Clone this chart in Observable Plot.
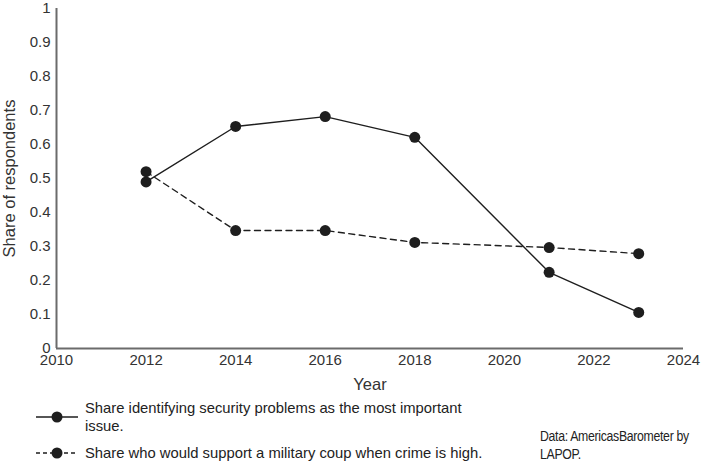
<!DOCTYPE html>
<html>
<head>
<meta charset="utf-8">
<script src="https://cdn.jsdelivr.net/npm/d3@7"></script>
<script src="https://cdn.jsdelivr.net/npm/@observablehq/plot@0.6"></script>
<style>
  body { margin: 0; background: #fff; font-family: "Liberation Sans", Arial, sans-serif; }
  #wrap { width: 701px; height: 463px; position: relative; overflow: hidden; }
  .leg { position: absolute; font-size: 14.8px; color: #222; line-height: 18px; }
  .src { font-size: 13.8px; letter-spacing: -0.35px; white-space: pre; transform: scaleX(0.89); transform-origin: 0 0; }
  .sw { position: absolute; }
</style>
</head>
<body>
<div id="wrap"><div id="chart"></div></div>
<script>
const years = [2012, 2014, 2016, 2018, 2021, 2023];
const securityShare = [0.49, 0.653, 0.682, 0.621, 0.224, 0.106];
const coupSupport = [0.52, 0.347, 0.347, 0.312, 0.297, 0.279];
const xTicks = [2010, 2012, 2014, 2016, 2018, 2020, 2022, 2024];
const yTicks = [0, 0.1, 0.2, 0.3, 0.4, 0.5, 0.6, 0.7, 0.8, 0.9, 1];
const seriesLabels = [
  "Share identifying security problems as the most important issue.",
  "Share who would support a military coup when crime is high."
];
const sourceLines = ["Data: AmericasBarometer by", "LAPOP."];

const sec = years.map((y, i) => ({year: y, value: securityShare[i]}));
const coup = years.map((y, i) => ({year: y, value: coupSupport[i]}));

const ink = "#1e1e1e";
const chart = Plot.plot({
  width: 701,
  height: 392,
  marginLeft: 56,
  marginRight: 18,
  marginTop: 8,
  marginBottom: 44,
  style: {fontFamily: "'Liberation Sans', Arial, sans-serif", fontSize: "15px", color: "#333", background: "#fff"},
  x: {domain: [2010, 2024]},
  y: {domain: [0, 1]},
  marks: [
    Plot.axisX({ticks: xTicks, tickFormat: d => String(d), tickSize: 0, tickPadding: 6, label: "Year", labelAnchor: "center", labelArrow: "none", labelOffset: 41, fontSize: 15}),
    Plot.axisY({ticks: yTicks, tickFormat: d => String(d), tickSize: 0, tickPadding: 6, label: "Share of respondents", labelAnchor: "center", labelArrow: "none", labelOffset: 53, fontSize: 15}),
    Plot.ruleX([2010], {stroke: "#6b6b6b", strokeWidth: 2}),
    Plot.ruleY([0], {stroke: "#6b6b6b", strokeWidth: 2}),
    Plot.line(coup, {x: "year", y: "value", stroke: ink, strokeWidth: 1.4, strokeDasharray: "6,4.5"}),
    Plot.line(sec, {x: "year", y: "value", stroke: ink, strokeWidth: 1.4}),
    Plot.dot(sec, {x: "year", y: "value", r: 5.5, fill: ink}),
    Plot.dot(coup, {x: "year", y: "value", r: 5.5, fill: ink})
  ]
});
d3.select(chart).selectAll("[aria-label='x-axis label'] text, [aria-label='y-axis label'] text").style("font-size", "16.5px");
document.getElementById("chart").appendChild(chart);

const wrap = document.getElementById("wrap");
function swatch(top, dashed) {
  const ns = "http://www.w3.org/2000/svg";
  const s = document.createElementNS(ns, "svg");
  s.setAttribute("width", 44); s.setAttribute("height", 14);
  s.setAttribute("class", "sw");
  s.style.left = "35px"; s.style.top = top + "px";
  const l = document.createElementNS(ns, "line");
  l.setAttribute("x1", 1); l.setAttribute("x2", 43); l.setAttribute("y1", 7); l.setAttribute("y2", 7);
  l.setAttribute("stroke", ink); l.setAttribute("stroke-width", 1.4);
  if (dashed) l.setAttribute("stroke-dasharray", "4,3");
  s.appendChild(l);
  const c = document.createElementNS(ns, "circle");
  c.setAttribute("cx", 22); c.setAttribute("cy", 7); c.setAttribute("r", 5.5); c.setAttribute("fill", ink);
  s.appendChild(c);
  wrap.appendChild(s);
}
swatch(410, false);
swatch(446, true);
function text(str, left, top, width, cls) {
  const d = document.createElement("div");
  d.className = "leg" + (cls ? " " + cls : ""); d.textContent = str;
  d.style.left = left + "px"; d.style.top = top + "px";
  if (width) d.style.width = width + "px";
  wrap.appendChild(d);
  return d;
}
text(seriesLabels[0], 85, 399, 395);
text(seriesLabels[1], 85, 444, 430);
text(sourceLines.join("\n"), 540, 428, 0, "src");
</script>
</body>
</html>
